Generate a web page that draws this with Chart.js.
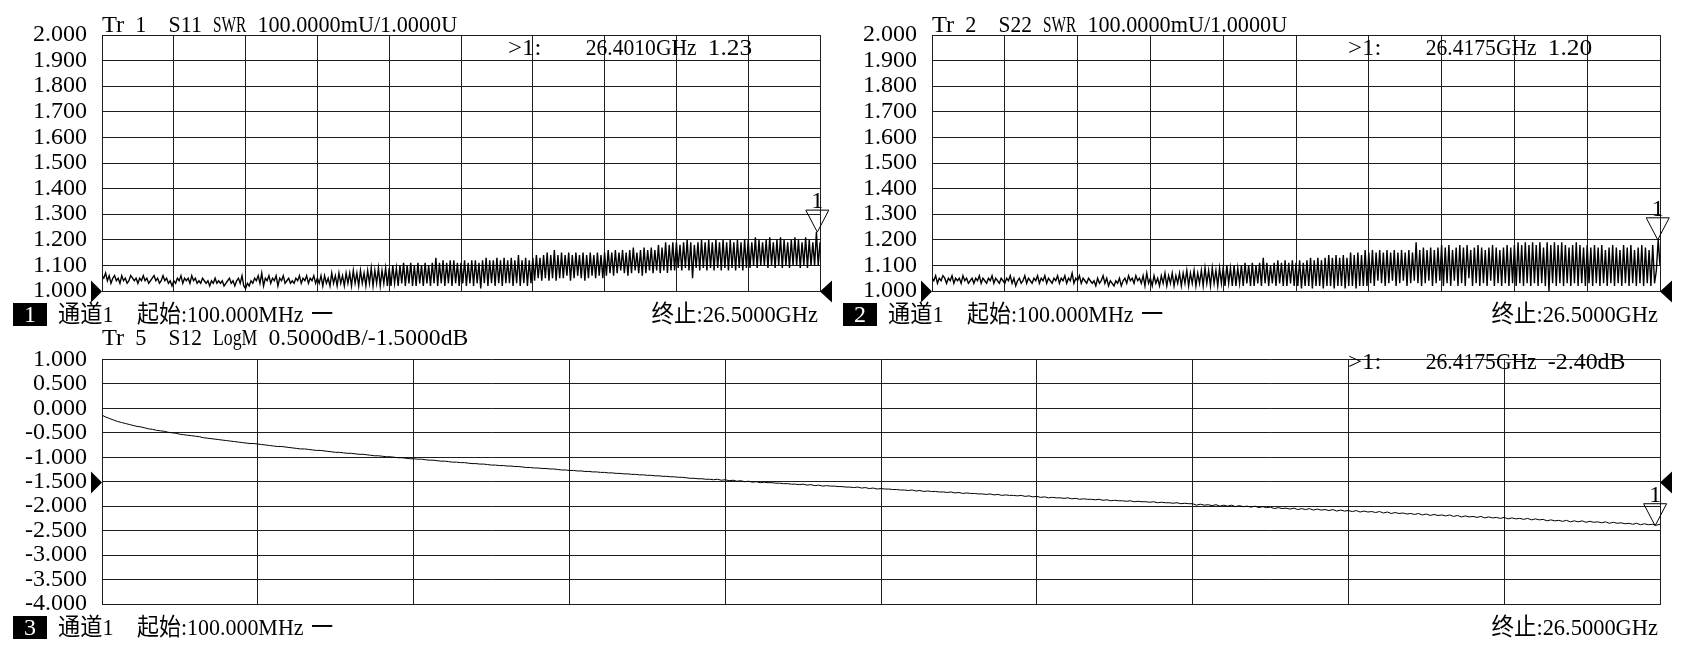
<!DOCTYPE html>
<html><head><meta charset="utf-8">
<script src="https://cdn.jsdelivr.net/npm/chart.js@4.4.1/dist/chart.umd.min.js"></script>
<style>
html,body{margin:0;padding:0;background:#fff;width:1684px;height:657px;overflow:hidden;}
canvas{position:absolute;}
</style></head><body>
<canvas id="c1" width="842" height="330" style="left:0px;top:0px"></canvas>
<canvas id="c2" width="854" height="330" style="left:830px;top:0px"></canvas>
<canvas id="c3" width="1684" height="327" style="left:0px;top:330px"></canvas>
<script>
// ---------- sweep / axes ----------
const START_GHZ = 0.1;
const STOP_GHZ = 26.5;
const X_DIVISIONS = 10;
const SWR_TICKS = [1.0, 1.1, 1.2, 1.3, 1.4, 1.5, 1.6, 1.7, 1.8, 1.9, 2.0];
const LOGM_TICKS = [-4.0, -3.5, -3.0, -2.5, -2.0, -1.5, -1.0, -0.5, 0.0, 0.5, 1.0];
const SWR_REF_LEVEL = 1.0;
const LOGM_REF_LEVEL = -1.5;

// ---------- texts ----------
const TITLES = ['Tr 1  S11 SWR 100.0000mU/1.0000U', 'Tr 2  S22 SWR 100.0000mU/1.0000U', 'Tr 5  S12 LogM 0.5000dB/-1.5000dB'];
const CHANNEL_NUMS = ['1', '2', '3'];
const CHANNEL_LABEL = '通道1';
const START_LABEL = '起始:100.000MHz';
const DASH_LABEL = '一';
const STOP_LABEL = '终止:26.5000GHz';

// ---------- markers ----------
const MARKER_FREQ = [26.4010, 26.4175, 26.4175];
const MARKER_VAL = [1.23, 1.20, -2.40];
const MARKER_UNIT = ['', '', 'dB'];

// ---------- traces (401 sweep points) ----------
const S11_SWR = [
1.06,1.05,1.07,1.04,1.06,1.03,1.05,1.06,1.04,1.05,
1.03,1.06,1.04,1.05,1.03,1.04,1.06,1.05,1.04,1.05,
1.03,1.05,1.04,1.06,1.04,1.05,1.03,1.04,1.05,1.06,
1.04,1.05,1.03,1.04,1.06,1.04,1.05,1.03,1.04,1.02,
1.04,1.03,1.05,1.04,1.06,1.03,1.05,1.04,1.05,1.03,
1.06,1.04,1.05,1.03,1.04,1.03,1.05,1.04,1.03,1.04,
1.02,1.04,1.03,1.05,1.03,1.04,1.03,1.04,1.02,1.03,
1.04,1.05,1.03,1.04,1.02,1.04,1.05,1.03,1.06,1.02,
1.01,1.03,1.02,1.04,1.03,1.05,1.04,1.06,1.03,1.07,
1.02,1.05,1.04,1.06,1.03,1.05,1.04,1.06,1.02,1.05,
1.04,1.06,1.03,1.04,1.05,1.03,1.04,1.03,1.05,1.04,
1.06,1.03,1.05,1.04,1.06,1.03,1.05,1.04,1.06,1.03,
1.05,1.03,1.06,1.02,1.06,1.03,1.05,1.02,1.07,1.03,
1.06,1.02,1.07,1.03,1.06,1.02,1.07,1.03,1.07,1.02,
1.08,1.03,1.07,1.02,1.08,1.03,1.07,1.02,1.08,1.03,
1.09,1.02,1.08,1.03,1.09,1.02,1.08,1.03,1.09,1.02,
1.09,1.02,1.10,1.03,1.09,1.02,1.10,1.03,1.11,1.02,
1.10,1.03,1.11,1.02,1.10,1.02,1.11,1.03,1.10,1.02,
1.11,1.03,1.10,1.02,1.11,1.03,1.13,1.02,1.11,1.03,
1.12,1.02,1.11,1.03,1.12,1.02,1.12,1.03,1.11,1.02,
1.11,1.03,1.12,1.02,1.11,1.03,1.12,1.02,1.12,1.03,
1.11,1.01,1.12,1.03,1.13,1.02,1.12,1.03,1.12,1.02,
1.13,1.03,1.12,1.02,1.13,1.03,1.12,1.03,1.13,1.02,
1.12,1.03,1.14,1.02,1.12,1.03,1.13,1.02,1.12,1.03,
1.13,1.04,1.14,1.05,1.13,1.04,1.14,1.05,1.15,1.04,
1.14,1.05,1.16,1.04,1.14,1.05,1.15,1.05,1.14,1.06,
1.15,1.04,1.14,1.05,1.15,1.06,1.14,1.05,1.15,1.04,
1.14,1.05,1.15,1.06,1.14,1.05,1.15,1.06,1.14,1.05,
1.15,1.06,1.16,1.07,1.15,1.06,1.16,1.07,1.15,1.08,
1.16,1.07,1.15,1.06,1.16,1.07,1.17,1.08,1.15,1.07,
1.16,1.06,1.17,1.07,1.16,1.08,1.17,1.07,1.16,1.08,
1.18,1.07,1.17,1.08,1.19,1.07,1.18,1.08,1.19,1.08,
1.19,1.09,1.18,1.08,1.19,1.09,1.20,1.08,1.19,1.05,
1.18,1.09,1.19,1.08,1.20,1.09,1.19,1.08,1.20,1.09,
1.19,1.08,1.20,1.09,1.19,1.08,1.20,1.09,1.19,1.08,
1.20,1.09,1.19,1.08,1.20,1.09,1.19,1.08,1.20,1.09,
1.20,1.09,1.19,1.10,1.21,1.09,1.20,1.10,1.19,1.10,
1.20,1.09,1.21,1.10,1.19,1.09,1.20,1.10,1.21,1.09,
1.20,1.10,1.19,1.09,1.20,1.10,1.21,1.10,1.20,1.09,
1.19,1.10,1.21,1.09,1.20,1.10,1.19,1.10,1.23,1.10,
1.19
];

const S22_SWR = [
1.05,1.04,1.06,1.03,1.05,1.04,1.06,1.05,1.03,1.05,
1.04,1.06,1.03,1.05,1.04,1.05,1.03,1.06,1.04,1.05,
1.03,1.04,1.05,1.03,1.05,1.04,1.06,1.03,1.05,1.04,
1.03,1.05,1.04,1.06,1.03,1.05,1.04,1.03,1.05,1.04,
1.03,1.05,1.04,1.06,1.03,1.05,1.02,1.04,1.05,1.03,
1.04,1.06,1.03,1.05,1.04,1.03,1.05,1.04,1.06,1.03,
1.05,1.04,1.06,1.03,1.05,1.04,1.03,1.05,1.04,1.06,
1.03,1.05,1.04,1.06,1.03,1.05,1.04,1.07,1.03,1.05,
1.04,1.06,1.03,1.05,1.04,1.03,1.05,1.04,1.03,1.04,
1.02,1.05,1.03,1.04,1.06,1.03,1.05,1.02,1.04,1.03,
1.02,1.04,1.03,1.05,1.02,1.04,1.05,1.03,1.06,1.04,
1.05,1.03,1.06,1.04,1.05,1.03,1.06,1.02,1.07,1.03,
1.05,1.02,1.06,1.03,1.05,1.02,1.06,1.03,1.07,1.02,
1.06,1.03,1.07,1.02,1.06,1.03,1.07,1.02,1.07,1.03,
1.08,1.02,1.07,1.03,1.08,1.02,1.07,1.03,1.08,1.02,
1.09,1.03,1.08,1.02,1.09,1.03,1.08,1.02,1.09,1.03,
1.09,1.02,1.10,1.03,1.09,1.02,1.10,1.02,1.09,1.03,
1.10,1.02,1.11,1.03,1.10,1.02,1.11,1.02,1.10,1.03,
1.11,1.02,1.13,1.03,1.11,1.02,1.10,1.03,1.11,1.02,
1.12,1.03,1.11,1.02,1.12,1.02,1.11,1.03,1.12,1.02,
1.11,1.02,1.12,1.01,1.11,1.02,1.12,1.02,1.13,1.01,
1.12,1.02,1.13,1.02,1.12,1.01,1.13,1.02,1.14,1.02,
1.13,1.01,1.14,1.02,1.13,1.02,1.14,1.01,1.13,1.02,
1.15,1.02,1.14,1.01,1.15,1.02,1.14,1.02,1.16,1.02,
1.15,1.03,1.16,1.02,1.15,1.04,1.16,1.03,1.15,1.02,
1.16,1.03,1.15,1.04,1.16,1.02,1.15,1.03,1.16,1.04,
1.15,1.02,1.16,1.03,1.15,1.04,1.19,1.03,1.16,1.02,
1.17,1.03,1.16,1.04,1.17,1.02,1.16,1.03,1.17,1.04,
1.18,1.02,1.17,1.03,1.18,1.02,1.16,1.04,1.17,1.02,
1.18,1.03,1.17,1.02,1.18,1.05,1.16,1.02,1.17,1.03,
1.18,1.02,1.17,1.03,1.16,1.02,1.17,1.04,1.18,1.02,
1.17,1.03,1.16,1.02,1.17,1.03,1.18,1.02,1.17,1.03,
1.18,1.02,1.19,1.03,1.18,1.02,1.19,1.03,1.18,1.02,
1.19,1.03,1.18,1.02,1.19,1.03,1.17,1.02,1.19,1.00,
1.18,1.03,1.19,1.02,1.18,1.03,1.19,1.02,1.18,1.03,
1.17,1.02,1.18,1.03,1.19,1.02,1.18,1.03,1.17,1.02,
1.18,1.03,1.17,1.02,1.18,1.03,1.17,1.02,1.18,1.03,
1.16,1.02,1.17,1.03,1.18,1.02,1.17,1.03,1.16,1.02,
1.18,1.03,1.17,1.02,1.18,1.03,1.16,1.02,1.17,1.03,
1.18,1.02,1.17,1.03,1.16,1.02,1.18,1.03,1.08,1.20,
1.10
];

const S12_LOGM = [
-0.14,-0.18,-0.21,-0.24,-0.27,-0.29,-0.31,-0.33,-0.35,-0.37,
-0.38,-0.40,-0.42,-0.43,-0.45,-0.46,-0.47,-0.49,-0.50,-0.51,
-0.53,-0.54,-0.55,-0.56,-0.57,-0.58,-0.60,-0.61,-0.62,-0.63,
-0.64,-0.65,-0.66,-0.67,-0.68,-0.69,-0.70,-0.71,-0.72,-0.72,
-0.73,-0.74,-0.75,-0.76,-0.77,-0.78,-0.78,-0.79,-0.80,-0.81,
-0.82,-0.83,-0.83,-0.84,-0.85,-0.86,-0.86,-0.87,-0.88,-0.89,
-0.90,-0.90,-0.91,-0.92,-0.92,-0.93,-0.94,-0.94,-0.95,-0.96,
-0.97,-0.97,-0.98,-0.99,-0.99,-1.00,-1.01,-1.01,-1.02,-1.03,
-1.03,-1.04,-1.04,-1.05,-1.06,-1.06,-1.07,-1.08,-1.08,-1.09,
-1.10,-1.10,-1.11,-1.11,-1.12,-1.13,-1.13,-1.14,-1.14,-1.15,
-1.16,-1.16,-1.17,-1.17,-1.18,-1.18,-1.19,-1.19,-1.20,-1.21,
-1.21,-1.22,-1.22,-1.23,-1.23,-1.24,-1.24,-1.25,-1.26,-1.26,
-1.27,-1.27,-1.28,-1.28,-1.29,-1.29,-1.30,-1.30,-1.31,-1.31,
-1.32,-1.32,-1.33,-1.33,-1.34,-1.34,-1.35,-1.35,-1.36,-1.36,
-1.37,-1.37,-1.38,-1.38,-1.39,-1.39,-1.40,-1.40,-1.41,-1.41,
-1.42,-1.43,-1.43,-1.44,-1.44,-1.45,-1.45,-1.46,-1.45,-1.47,
-1.46,-1.48,-1.47,-1.49,-1.48,-1.50,-1.49,-1.51,-1.50,-1.52,
-1.51,-1.52,-1.52,-1.53,-1.53,-1.54,-1.54,-1.55,-1.55,-1.56,
-1.55,-1.57,-1.56,-1.58,-1.57,-1.59,-1.58,-1.59,-1.59,-1.60,
-1.60,-1.61,-1.61,-1.62,-1.61,-1.63,-1.62,-1.64,-1.63,-1.65,
-1.64,-1.65,-1.65,-1.66,-1.66,-1.67,-1.67,-1.68,-1.67,-1.69,
-1.68,-1.70,-1.69,-1.70,-1.70,-1.71,-1.71,-1.72,-1.71,-1.73,
-1.72,-1.74,-1.73,-1.74,-1.74,-1.75,-1.75,-1.76,-1.75,-1.77,
-1.76,-1.78,-1.77,-1.78,-1.78,-1.79,-1.78,-1.80,-1.79,-1.81,
-1.80,-1.82,-1.81,-1.83,-1.82,-1.83,-1.83,-1.84,-1.83,-1.85,
-1.84,-1.86,-1.85,-1.86,-1.86,-1.87,-1.86,-1.88,-1.87,-1.89,
-1.88,-1.89,-1.89,-1.90,-1.89,-1.91,-1.90,-1.91,-1.91,-1.92,
-1.91,-1.93,-1.92,-1.93,-1.93,-1.94,-1.93,-1.95,-1.94,-1.95,
-1.95,-1.98,-1.96,-1.98,-1.97,-1.99,-1.97,-2.00,-1.98,-2.00,
-1.98,-2.01,-1.99,-2.01,-2.00,-2.02,-2.00,-2.03,-2.01,-2.03,
-2.02,-2.05,-2.03,-2.05,-2.04,-2.06,-2.04,-2.07,-2.05,-2.07,
-2.05,-2.08,-2.06,-2.08,-2.07,-2.09,-2.07,-2.10,-2.08,-2.10,
-2.09,-2.11,-2.09,-2.12,-2.10,-2.12,-2.11,-2.13,-2.11,-2.14,
-2.12,-2.15,-2.13,-2.15,-2.14,-2.16,-2.15,-2.17,-2.15,-2.18,
-2.16,-2.19,-2.17,-2.19,-2.18,-2.20,-2.18,-2.21,-2.19,-2.22,
-2.20,-2.22,-2.21,-2.23,-2.21,-2.24,-2.22,-2.24,-2.23,-2.25,
-2.23,-2.26,-2.24,-2.26,-2.25,-2.27,-2.25,-2.28,-2.26,-2.28,
-2.27,-2.30,-2.28,-2.30,-2.29,-2.31,-2.29,-2.32,-2.30,-2.32,
-2.30,-2.33,-2.31,-2.33,-2.32,-2.34,-2.32,-2.35,-2.33,-2.35,
-2.34,-2.36,-2.35,-2.37,-2.35,-2.38,-2.36,-2.38,-2.37,-2.39,
-2.37
];

// ---------- drawing helpers ----------
const CELL = 11.1;
const FONT = '24px "Liberation Serif", "Noto Sans CJK SC", serif';
const INK = '#000';
const GRID = '#1e1e1e';

function cellsOf(ch) { return ch.charCodeAt(0) >= 0x2E80 ? 2 : 1; }
function monoWidth(str) { let n = 0; for (const ch of str) n += cellsOf(ch); return n * CELL; }
function drawMono(ctx, str, x, y, color) {
  ctx.save();
  ctx.font = FONT; ctx.fillStyle = color || INK;
  ctx.textBaseline = 'alphabetic'; ctx.textAlign = 'left';
  let pos = 0, run = '', runStart = 0;
  const flush = () => {
    if (!run) return;
    let cells = 0; for (const ch of run) cells += cellsOf(ch);
    const nat = ctx.measureText(run).width;
    const sx = (cells * CELL) / nat;
    ctx.save(); ctx.translate(x + runStart * CELL, y); ctx.scale(sx, 1);
    ctx.fillText(run, 0, 0); ctx.restore();
    run = '';
  };
  for (const ch of str) {
    if (ch === ' ') { flush(); pos += 1; continue; }
    if (!run) runStart = pos;
    run += ch; pos += cellsOf(ch);
  }
  flush();
  ctx.restore();
}

function toPoints(values) {
  const n = values.length;
  return values.map((v, i) => ({ x: START_GHZ + i * (STOP_GHZ - START_GHZ) / (n - 1), y: v }));
}

function overlayPlugin(k, cfg) {
  return {
    id: 'vnaOverlay' + k,
    afterDraw(chart) {
      const ctx = chart.ctx, a = chart.chartArea;
      const xs = chart.scales.x, ys = chart.scales.y;
      drawMono(ctx, TITLES[k], a.left, cfg.titleY);
      const readout = '>1:    ' + MARKER_FREQ[k].toFixed(4) + 'GHz ' + MARKER_VAL[k].toFixed(2) + MARKER_UNIT[k];
      drawMono(ctx, readout, cfg.readoutX, cfg.readoutY);
      const ry = Math.round(ys.getPixelForValue(cfg.refLevel)) + 0.5;
      ctx.save();
      ctx.fillStyle = INK;
      ctx.beginPath(); ctx.moveTo(a.left - 11, ry - 11); ctx.lineTo(a.left - 11, ry + 11); ctx.lineTo(a.left, ry); ctx.closePath(); ctx.fill();
      ctx.beginPath(); ctx.moveTo(a.right + 12, ry - 11); ctx.lineTo(a.right + 12, ry + 11); ctx.lineTo(a.right, ry); ctx.closePath(); ctx.fill();
      const mx = xs.getPixelForValue(MARKER_FREQ[k]);
      const my = ys.getPixelForValue(MARKER_VAL[k]);
      ctx.strokeStyle = INK; ctx.lineWidth = 1;
      ctx.beginPath(); ctx.moveTo(mx - 11.5, my - 22); ctx.lineTo(mx + 11.5, my - 22); ctx.lineTo(mx, my); ctx.closePath(); ctx.stroke();
      ctx.font = FONT; ctx.textAlign = 'center'; ctx.textBaseline = 'alphabetic';
      ctx.fillText('1', mx, my - 24);
      const fy = cfg.footY;
      ctx.fillRect(13, fy - 19, 34, 23);
      ctx.fillStyle = '#fff';
      ctx.fillText(CHANNEL_NUMS[k], 30, fy);
      ctx.restore();
      drawMono(ctx, CHANNEL_LABEL, 58, fy);
      drawMono(ctx, START_LABEL, 137, fy);
      drawMono(ctx, DASH_LABEL, 311, fy);
      drawMono(ctx, STOP_LABEL, a.right - 2 - monoWidth(STOP_LABEL), fy);
    }
  };
}

function makeChart(k, canvasId, values, yTicks, pad, cfg) {
  const xGrid = [];
  for (let i = 0; i <= X_DIVISIONS; i++) xGrid.push(START_GHZ + i * (STOP_GHZ - START_GHZ) / X_DIVISIONS);
  return new Chart(document.getElementById(canvasId), {
    type: 'line',
    data: { datasets: [{
      data: toPoints(values), borderColor: INK, borderWidth: cfg.lineWidth,
      pointRadius: 0, tension: 0, fill: false
    }]},
    options: {
      responsive: false, maintainAspectRatio: false, animation: false, events: [],
      devicePixelRatio: 1,
      layout: { padding: pad },
      plugins: { legend: { display: false }, tooltip: { enabled: false } },
      scales: {
        x: {
          type: 'linear', min: START_GHZ, max: STOP_GHZ,
          afterBuildTicks: s => { s.ticks = xGrid.map(v => ({ value: v })); },
          afterFit: s => { s.height = 0; },
          ticks: { display: false },
          grid: { color: GRID, lineWidth: 1, drawTicks: false },
          border: { display: true, color: GRID, width: 1 }
        },
        y: {
          type: 'linear', min: yTicks[0], max: yTicks[yTicks.length - 1],
          afterBuildTicks: s => { s.ticks = yTicks.map(v => ({ value: v })); },
          afterFit: s => { s.width = 102; },
          ticks: {
            autoSkip: false, padding: 15, color: INK,
            font: { family: '"Liberation Serif", serif', size: 24 },
            callback: v => Number(v).toFixed(3)
          },
          grid: { color: GRID, lineWidth: 1, drawTicks: false },
          border: { display: true, color: GRID, width: 1 }
        }
      }
    },
    plugins: [overlayPlugin(k, cfg)]
  });
}

makeChart(0, 'c1', S11_SWR, SWR_TICKS, { left: 0, top: 35, right: 22, bottom: 39 },
  { titleY: 32, readoutX: 508, readoutY: 55, refLevel: SWR_REF_LEVEL, footY: 322, lineWidth: 1.4 });
makeChart(1, 'c2', S22_SWR, SWR_TICKS, { left: 0, top: 35, right: 24, bottom: 39 },
  { titleY: 32, readoutX: 518, readoutY: 55, refLevel: SWR_REF_LEVEL, footY: 322, lineWidth: 1.4 });
makeChart(2, 'c3', S12_LOGM, LOGM_TICKS, { left: 0, top: 19, right: 24, bottom: 53 },
  { titleY: 15, readoutX: 1348, readoutY: 39, refLevel: LOGM_REF_LEVEL, footY: 305, lineWidth: 1 });
</script>
</body></html>
